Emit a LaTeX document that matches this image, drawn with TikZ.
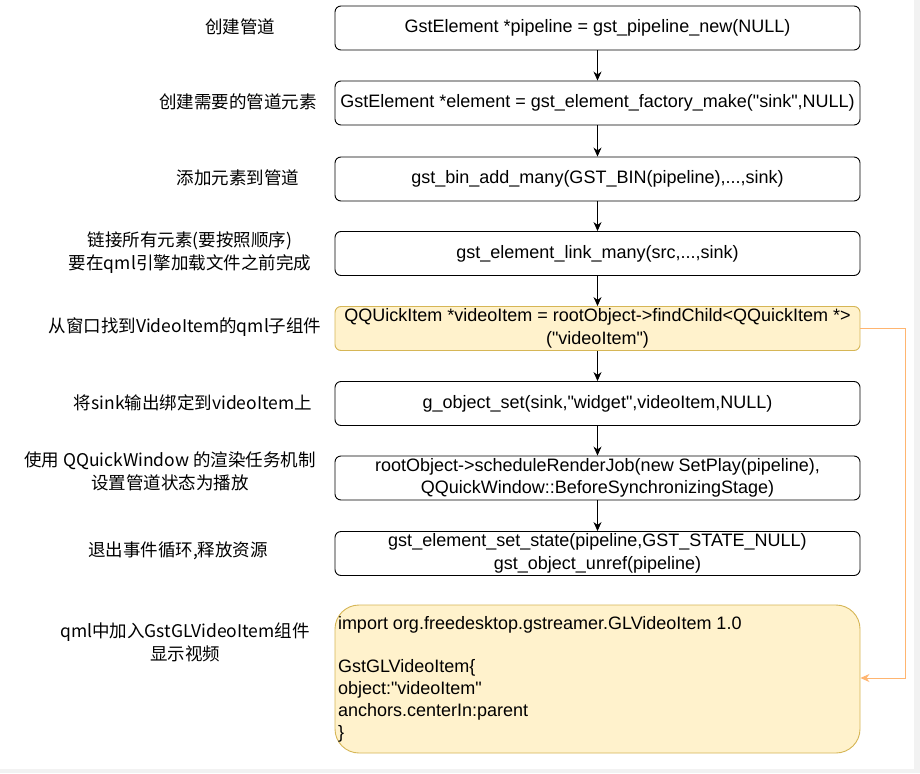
\documentclass[tikz,border=0pt]{standalone}
\usepackage{fontspec}
\setmainfont{Liberation Sans}[Ligatures=TeXOff]
\newfontfamily\cjk{Noto Sans CJK SC}[Ligatures=TeXOff]
\usetikzlibrary{arrows.meta}
\definecolor{yfill}{HTML}{FFF2CC}
\definecolor{ydraw}{HTML}{D6B656}
\definecolor{orng}{HTML}{FFB570}
\definecolor{edge}{HTML}{F2F2F2}
\newcommand{\dq}{\symbol{34}}
\begin{document}
\begin{tikzpicture}[x=1pt,y=-1pt,
  stepbox/.style={draw=black, line width=0.9pt, rounded corners=6pt, minimum width=525pt, minimum height=44pt, align=center, inner sep=0pt, font=\fontsize{18}{22.5}\selectfont, fill=white},
  ybox/.style={stepbox, fill=yfill, draw=ydraw},
  lbl/.style={align=center, font=\cjk\fontsize{17.5}{22.5}\selectfont, inner sep=0pt},
  arr/.style={-{Stealth[length=9pt,width=8pt]}, line width=0.9pt},
]
\fill[edge] (0,0) rectangle (920,773);
\fill[white] (0,0) rectangle (914,769);
\useasboundingbox (0,0) rectangle (920,773);

\node[stepbox] (b1) at (597.5,28) {GstElement *pipeline = gst\_pipeline\_new(NULL)};
\node[stepbox] (b2) at (597.5,103) {GstElement *element = gst\_element\_factory\_make(\dq sink\dq,NULL)};
\node[stepbox] (b3) at (597.5,179) {gst\_bin\_add\_many(GST\_BIN(pipeline),...,sink)};
\node[stepbox] (b4) at (597.5,253.5) {gst\_element\_link\_many(src,...,sink)};
\node[ybox] (b5) at (597.5,328.5) {QQUickItem *videoItem = rootObject->findChild<QQuickItem *>\\(\dq videoItem\dq)};
\node[stepbox] (b6) at (597.5,403.5) {g\_object\_set(sink,\dq widget\dq,videoItem,NULL)};
\node[stepbox] (b7) at (597.5,478) {rootObject->scheduleRenderJob(new SetPlay(pipeline),\\QQuickWindow::BeforeSynchronizingStage)};
\node[stepbox] (b8) at (597.5,553.5) {gst\_element\_set\_state(pipeline,GST\_STATE\_NULL)\\gst\_object\_unref(pipeline)};
\node[ybox, rounded corners=24pt, minimum height=148pt, align=left, inner xsep=3pt] (b9) at (597.5,679)
 {\parbox{519pt}{\fontsize{18}{22}\selectfont import org.freedesktop.gstreamer.GLVideoItem 1.0\\[21pt]GstGLVideoItem\{\\object:\dq videoItem\dq\\anchors.centerIn:parent\\\}}};

\draw[arr] (b1) -- (b2);
\draw[arr] (b2) -- (b3);
\draw[arr] (b3) -- (b4);
\draw[arr] (b4) -- (b5);
\draw[arr] (b5) -- (b6);
\draw[arr] (b6) -- (b7);
\draw[arr] (b7) -- (b8);
\coordinate (c1) at (905,328.5);
\coordinate (c2) at (905,678);
\draw[-{Stealth[length=9pt,width=8pt]}, draw=orng, line width=0.9pt] (b5.east) -- (c1) -- (c2) -- (b9.east |- c2);

\node[lbl] (l1) at (240,27) {创建管道};
\node[lbl] (l2) at (238,102) {创建需要的管道元素};
\node[lbl] (l3) at (238,178) {添加元素到管道};
\node[lbl] (l4) at (190,252.5) {链接所有元素(要按照顺序)\\要在qml引擎加载文件之前完成};
\node[lbl] (l5) at (185,327) {从窗口找到VideoItem的qml子组件};
\node[lbl] (l6) at (193,403) {将sink输出绑定到videoItem上};
\node[lbl] (l7) at (170,471.5) {使用 QQuickWindow 的渲染任务机制\\设置管道状态为播放};
\node[lbl] (l8) at (178,551) {退出事件循环,释放资源};
\node[lbl] (l9) at (185,642.5) {qml中加入GstGLVideoItem组件\\显示视频};
\end{tikzpicture}
\end{document}
